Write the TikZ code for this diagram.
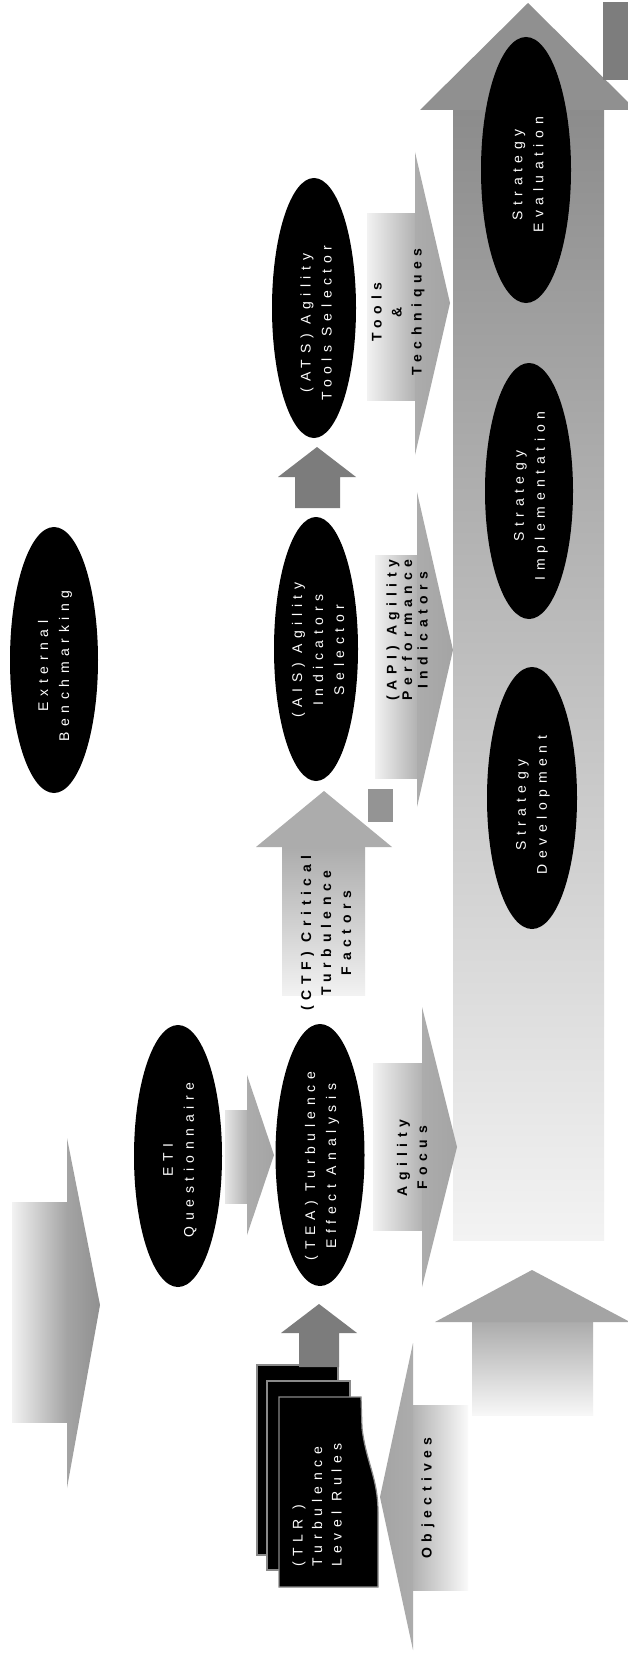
\documentclass[tikz,border=0pt]{standalone}
\usepackage{fontspec}
\newfontfamily\trackfont{Liberation Sans}[LetterSpace=40]
\usetikzlibrary{shapes.geometric}

\definecolor{shaftTop}{HTML}{8C8C8C}
\definecolor{shaftMid}{HTML}{BBBBBB}
\definecolor{shaftBot}{HTML}{F3F3F3}
\definecolor{headMain}{HTML}{909090}
\definecolor{sideBlock}{HTML}{7D7D7D}
\definecolor{arrowDark}{HTML}{7C7C7C}
\definecolor{headMid}{HTML}{A4A4A4}
\definecolor{headLight}{HTML}{ACACAC}
\definecolor{bodyDark}{HTML}{B2B2B2}
\definecolor{bodyLight}{HTML}{F2F2F2}
\definecolor{sheetEdge}{HTML}{8A8A8A}

\begin{document}
\begin{tikzpicture}[x=1pt,y=-1pt,
  blob/.style={ellipse, fill=black, draw=none, inner sep=0pt},
  blobtext/.style={rotate=90, align=center, text=white, inner sep=0pt,
    font={\trackfont\fontsize{14}{21}\selectfont}},
  tag/.style={rotate=90, align=center, text=black, inner sep=0pt,
    font={\trackfont\bfseries\fontsize{14}{20}\selectfont}},
  sheet/.style={fill=black, draw=sheetEdge, line width=1.2pt},
  darkarrow/.style={fill=arrowDark},
]
\fill[white] (0,0) rectangle (628,1656);
\useasboundingbox (0,0) rectangle (628,1656);
\clip (0,0) rectangle (628,1656);

% ---------- main strategy arrow ----------
\shade[top color=shaftTop, middle color=shaftMid, bottom color=shaftBot]
  (453,110) rectangle (604,1240);
\fill[headMain] (420,110) -- (528,3) -- (636,110) -- cycle;
\fill[sideBlock] (603,2) rectangle (628,80);

% lower upward arrow
\shade[top color=headLight, bottom color=white!97!black] (472,1322) rectangle (593,1415);
\fill[headMid] (435,1322) -- (532,1270) -- (630,1322) -- cycle;

% ---------- CTF upward arrow ----------
\shade[top color=headLight, bottom color=bodyLight] (282,847) rectangle (365,995);
\fill[headLight] (256,847) -- (324,791) -- (392,847) -- cycle;
\fill[headMid!90!black] (368,789) rectangle (393,822);

% ---------- right-pointing block arrows ----------
% far left
\shade[left color=bodyLight, right color=headMid] (12,1202) rectangle (67,1422);
\shade[left color=headMid, right color=headMain] (67,1138) -- (100,1305) -- (67,1488) -- cycle;
% ETI -> TEA
\shade[left color=bodyLight!95!black, right color=bodyDark] (225,1110) rectangle (247,1203);
\shade[left color=headLight, right color=headMid] (247,1075) -- (274,1155) -- (247,1235) -- cycle;
% Agility Focus
\shade[left color=bodyLight, right color=bodyDark] (373,1063) rectangle (422,1230);
\shade[left color=headLight, right color=headMid] (422,1007) -- (457,1147) -- (422,1287) -- cycle;
% API
\shade[left color=bodyLight, right color=bodyDark] (375,555) rectangle (417,778);
\shade[left color=headLight, right color=headMid] (417,492) -- (453,650) -- (417,807) -- cycle;
% Tools & Techniques
\shade[left color=bodyLight, right color=bodyDark] (367,213) rectangle (415,400);
\shade[left color=headLight, right color=headMid] (415,152) -- (450,303) -- (415,455) -- cycle;
% Objectives (points left)
\shade[left color=bodyDark, right color=white!98!black] (413,1405) rectangle (468,1590);
\shade[left color=headMid, right color=headLight] (413,1343) -- (380,1497) -- (413,1650) -- cycle;

% ---------- TLR document stack ----------
\draw[sheet] (257,1365) rectangle (338,1555);
\draw[sheet] (267,1381) rectangle (350,1570);
\draw[sheet] (279,1397) -- (361,1397) -- (362,1428)
  .. controls (366,1462) and (378,1478) .. (378,1512) -- (378,1587) -- (279,1587) -- cycle;
\node[tag, text=white, font={\trackfont\fontsize{14}{19.5}\selectfont}, align=left, anchor=west]
  (tlrtag) at (317,1567) {(TLR )\\Turbulence\\Level Rules};

% ---------- ellipses ----------
\node[blob, minimum width=88, minimum height=266] (eb)    at (54,660)   {};
\node[blob, minimum width=88, minimum height=262] (eti)   at (178,1156) {};
\node[blob, minimum width=89, minimum height=262] (tea)   at (320,1155) {};
\node[blob, minimum width=84, minimum height=264] (ais)   at (316,649)  {};
\node[blob, minimum width=84, minimum height=260] (ats)   at (314,308)  {};
\node[blob, minimum width=90, minimum height=262] (sdev)  at (532,798)  {};
\node[blob, minimum width=88, minimum height=256] (simp)  at (529,491)  {};
\node[blob, minimum width=90, minimum height=266] (seval) at (526,170)  {};

\node[blobtext] (ebtxt)    at (55,666)   {External\\Benchmarking};
\node[blobtext] (etitxt)   at (180,1160) {ETI\\Questionnaire};
\node[blobtext] (teatxt)   at (322,1166) {(TEA) Turbulence\\Effect Analysis};
\node[blobtext] (aistxt)   at (318,650)  {(AIS) Agility\\Indicators\\Selector};
\node[blobtext] (atstxt)   at (316,323)  {(ATS) Agility\\Tools Selector};
\node[blobtext] (sdevtxt)  at (533,805)  {Strategy\\Development};
\node[blobtext] (simptxt)  at (531,496)  {Strategy\\Implementation};
\node[blobtext] (sevaltxt) at (528,175)  {Strategy\\Evaluation};

% ---------- short dark connector arrows ----------
\fill[darkarrow] (299,1367) -- (299,1333) -- (281,1333) -- (319,1304)
  -- (357,1333) -- (339,1333) -- (339,1367) -- cycle;
\fill[darkarrow] (295,508) -- (295,477) -- (278,477) -- (317,447)
  -- (356,477) -- (340,477) -- (340,508) -- cycle;

% ---------- arrow labels ----------
\node[tag] (objtag)  at (428,1498) {Objectives};
\node[tag] (agitag)  at (412,1158) {Agility\\Focus};
\node[tag] (ctftag)  at (326,933)  {(CTF) Critical\\Turbulence\\Factors};
\node[tag, font={\trackfont\bfseries\fontsize{14}{15.5}\selectfont}]
  (apitag)  at (407,630)  {(API) Agility\\Performance\\Indicators};
\node[tag] (tooltag) at (398,312)  {Tools\\\&\\Techniques};
\end{tikzpicture}
\end{document}
